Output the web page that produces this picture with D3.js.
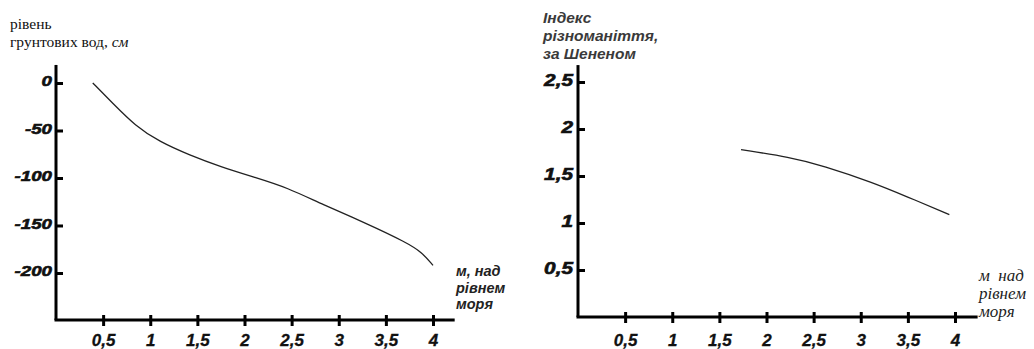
<!DOCTYPE html>
<html>
<head>
<meta charset="utf-8">
<script src="https://cdn.jsdelivr.net/npm/d3@7"></script>
<style>
  html, body { margin: 0; padding: 0; background: #fff; }
  svg { display: block; }
</style>
</head>
<body>
<svg id="chart" width="1034" height="349"></svg>
<script>
// ---- data ----
const xTicks = [0.5, 1, 1.5, 2, 2.5, 3, 3.5, 4];
const gwTicks = [0, -50, -100, -150, -200];
const shTicks = [0.5, 1, 1.5, 2, 2.5];

// groundwater level (cm) vs elevation (m above sea level)
const gwX = [0.39, 0.60, 0.84, 1.10, 1.42, 1.74, 2.13, 2.45, 2.83, 3.30, 3.72, 3.88, 4.0];
const gwY = [0, -21, -45, -62, -76, -88, -100, -110, -128, -148, -168, -178, -192];

// Shannon diversity index vs elevation
const shX = [1.73, 2.25, 2.60, 3.13, 3.49, 3.94];
const shY = [1.78, 1.70, 1.61, 1.43, 1.28, 1.09];

// ---- drawing ----
const svg = d3.select("#chart");
const sans = "Liberation Sans, Arial, sans-serif";
const serif = "Liberation Serif, Times New Roman, DejaVu Serif, serif";
const fmt = v => String(v).replace(".", ",");

function drawPanel(o) {
  const g = svg.append("g");
  const x = d3.scaleLinear().domain([0, 4]).range(o.xRange);
  const y = d3.scaleLinear().domain(o.yDomain).range(o.yRange);

  // axis lines
  g.append("line")
    .attr("x1", x(0)).attr("x2", x(0))
    .attr("y1", y(o.yTop)).attr("y2", y(o.yDomain[0]))
    .attr("stroke", "#000").attr("stroke-width", 3);
  g.append("line")
    .attr("x1", x(0) - 1.5).attr("x2", x(o.xEnd))
    .attr("y1", y(o.yDomain[0])).attr("y2", y(o.yDomain[0]))
    .attr("stroke", "#000").attr("stroke-width", 3);

  // x axis ticks
  const ax = g.append("g")
    .attr("transform", `translate(0,${y(o.yDomain[0])})`)
    .call(d3.axisBottom(x).tickValues(xTicks).tickFormat(fmt).tickSize(6).tickSizeOuter(0));
  ax.select(".domain").remove();
  ax.selectAll(".tick line").attr("y1", -5).attr("y2", 6)
    .attr("stroke", "#000").attr("stroke-width", 3);
  ax.selectAll(".tick text")
    .attr("y", o.xLabelY - y(o.yDomain[0])).attr("dy", null)
    .attr("font-family", sans).attr("font-weight", "bold").attr("font-style", "italic")
    .attr("font-size", 17).attr("fill", "#111")
    .attr("stroke", "#111").attr("stroke-width", 0.3);

  // y axis ticks
  const ay = g.append("g")
    .attr("transform", `translate(${x(0)},0)`)
    .call(d3.axisLeft(y).tickValues(o.yTicks).tickFormat(fmt).tickSize(-7).tickSizeOuter(0));
  ay.select(".domain").remove();
  ay.selectAll(".tick line").attr("stroke", "#000").attr("stroke-width", 3);
  ay.selectAll(".tick text")
    .attr("x", 0).attr("dy", "0.32em")
    .attr("text-anchor", "end")
    .attr("transform", `translate(${o.yLabelDx},-2) scale(${o.yLabelStretch},1)`)
    .attr("font-family", sans).attr("font-weight", "bold").attr("font-style", "italic")
    .attr("font-size", o.yLabelSize).attr("fill", "#111")
    .attr("stroke", "#111").attr("stroke-width", 0.6);

  // curve
  const line = d3.line().x(d => x(d[0])).y(d => y(d[1])).curve(d3.curveBasis);
  g.append("path")
    .datum(o.xs.map((v, i) => [v, o.ys[i]]))
    .attr("d", line)
    .attr("fill", "none").attr("stroke", "#222").attr("stroke-width", 1.3);
}

drawPanel({
  xRange: [56, 433], yDomain: [-249.5, 0], yRange: [320, 83], yTop: 19, xEnd: 4.23,
  yTicks: gwTicks, xLabelY: 346, yLabelDx: -4, yLabelStretch: 1.25, yLabelSize: 15,
  xs: gwX, ys: gwY
});
drawPanel({
  xRange: [578, 955], yDomain: [0, 2.5], yRange: [317, 82], yTop: 2.68, xEnd: 4.24,
  yTicks: shTicks, xLabelY: 346, yLabelDx: -5, yLabelStretch: 1.3, yLabelSize: 16,
  xs: shX, ys: shY
});

// ---- titles ----
const t1 = svg.append("text").attr("font-family", serif).attr("font-size", 15.5).attr("fill", "#111");
t1.append("tspan").attr("x", 10).attr("y", 29).text("рівень");
const l2 = t1.append("tspan").attr("x", 10).attr("y", 47);
l2.text("грунтових вод, ");
t1.append("tspan").attr("font-style", "italic").text("см");

const xl1 = svg.append("text").attr("font-family", sans).attr("font-weight", "bold")
  .attr("font-style", "italic").attr("font-size", 14.5).attr("fill", "#222");
["м, над", "рівнем", "моря"].forEach((s, i) =>
  xl1.append("tspan").attr("x", 456).attr("y", 276 + i * 16.5).text(s));

const yl2 = svg.append("text").attr("font-family", sans).attr("font-weight", "bold")
  .attr("font-style", "italic").attr("font-size", 15.5).attr("fill", "#3a3a3a");
["Індекс", "різноманіття,", "за Шененом"].forEach((s, i) =>
  yl2.append("tspan").attr("x", 543).attr("y", 23 + i * 18).text(s));

const xl2 = svg.append("text").attr("font-family", serif)
  .attr("font-style", "italic").attr("font-size", 17).attr("fill", "#222");
["м  над", "рівнем", "моря"].forEach((s, i) =>
  xl2.append("tspan").attr("x", 979).attr("y", 281 + i * 18).attr("xml:space", "preserve").text(s));
</script>
</body>
</html>
